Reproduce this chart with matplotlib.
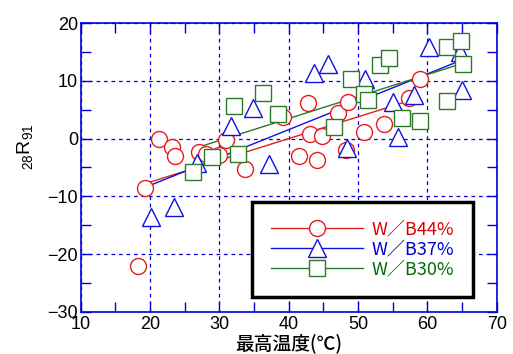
import matplotlib
matplotlib.use("Agg")
import matplotlib.pyplot as plt
from matplotlib.lines import Line2D
import numpy as np

plt.rcParams['font.family'] = ['Liberation Sans', 'DejaVu Sans']
plt.rcParams['mathtext.default'] = 'regular'

# W/B44%
x44 = [18.3, 19.3, 21.25, 23.2, 23.6, 27.1, 28.1, 29.9, 30.9, 33.7, 39.2, 41.5,
       42.8, 43.1, 44.1, 44.8, 47.1, 48.3, 48.6, 50.8, 53.7, 57.3, 58.9]
y44 = [-22.0, -8.6, 0.0, -1.5, -3.0, -2.3, -2.7, -2.9, -0.3, -5.2, 3.8, -3.0,
       6.1, 0.75, -3.65, 0.4, 4.45, -1.9, 6.4, 1.15, 2.5, 7.1, 10.4]
# W/B37%
x37 = [20.1, 23.4, 26.8, 31.7, 34.8, 37.2, 43.7, 45.6, 48.4, 51.0, 55.1, 55.7,
       58.1, 60.3, 64.7, 65.0]
y37 = [-13.5, -11.8, -4.3, 2.2, 5.4, -4.4, 11.4, 12.9, -1.6, 10.4, 6.4, 0.3,
       7.5, 15.9, 15.0, 8.5]
# W/B30%
x30 = [26.2, 28.9, 32.7, 32.1, 36.3, 38.4, 46.5, 49.0, 50.9, 51.5, 53.2, 54.4,
       56.3, 58.9, 62.8, 62.8, 64.9, 65.2]
y30 = [-5.8, -3.2, -2.6, 5.6, 7.9, 4.2, 2.0, 10.3, 7.7, 6.7, 12.7, 14.0,
       3.5, 3.1, 6.5, 15.9, 17.0, 12.9]

# regression lines (ends)
fit44_x = [19.3, 57.2]
fit44_y = [-7.8, 6.5]
fit37_x = [20.0, 64.3]
fit37_y = [-8.1, 13.3]
fit30_x = [27.7, 64.3]
fit30_y = [-1.2, 12.75]

labels = ['W／B44%', 'W／B37%', 'W／B30%']
colors = ['#e81c1c', '#1010e0', '#2a7a2a']
text_colors = ['#e00000', '#0000d0', '#0a6a0a']
markers = ['o', '^', 's']
msizes = [11.5, 13, 12]

fig = plt.figure(figsize=(5.13, 3.54), dpi=100)
ax = fig.add_axes([0.1573, 0.1195, 0.8109, 0.8147])

series = [(x44, y44, fit44_x, fit44_y), (x37, y37, fit37_x, fit37_y),
          (x30, y30, fit30_x, fit30_y)]
for i, (xs, ys, fx, fy) in enumerate(series):
    ax.plot(fx, fy, color=colors[i], lw=1.0, zorder=2)
for i, (xs, ys, fx, fy) in enumerate(series):
    ax.plot(xs, ys, linestyle='none', marker=markers[i], ms=msizes[i],
            mfc='white', mec=colors[i], mew=1.0, zorder=3 + i)

ax.set_xlim(10, 70)
ax.set_ylim(-30, 20)
ax.set_xticks(np.arange(10, 71, 10))
ax.set_xticks(np.arange(15, 70, 10), minor=True)
ax.set_yticks(np.arange(-30, 21, 10))
ax.set_yticks(np.arange(-25, 20, 10), minor=True)
ax.tick_params(which='both', direction='in', top=True, right=True,
               color='#0000d8', length=7, width=1.0, labelsize=13,
               labelcolor='black')
ax.tick_params(axis='x', pad=3)
ax.tick_params(axis='y', pad=2)
for s in ax.spines.values():
    s.set_color('#0000d8')
    s.set_linewidth(1.2)
ax.grid(True, which='major', color='#0000d8', linestyle=(0, (3, 3)),
        linewidth=0.9)
ax.set_axisbelow(True)

fig.text(0.048, 1 - 147 / 354, r'${}_{28}$R$_{91}$', rotation=90,
         fontsize=14, ha='center', va='center')
fig.text(0.5625, 1 - 333 / 354, '最高温度(℃)', fontsize=13.5, ha='center',
         va='top', fontweight='medium',
         family=['Noto Sans CJK JP', 'DejaVu Sans'])

handles = [Line2D([], [], color=colors[i], lw=1.0, marker=markers[i],
                  ms=msizes[i], mfc='white', mec=colors[i], mew=1.0)
           for i in range(3)]
leg = ax.legend(handles, labels, loc='upper left',
                bbox_to_anchor=(251.7 / 513, 1 - 201.7 / 354),
                bbox_transform=fig.transFigure, fancybox=False,
                edgecolor='black', framealpha=1, handlelength=5.1,
                handletextpad=0.5, labelspacing=0.1, borderpad=1.05,
                borderaxespad=0, prop={'family': ['Noto Sans CJK JP', 'DejaVu Sans'], 'size': 13})
leg.get_frame().set_linewidth(2.5)
leg.set_zorder(10)
for t, c in zip(leg.get_texts(), text_colors):
    t.set_color(c)

fig.savefig('out.png', dpi=100)
